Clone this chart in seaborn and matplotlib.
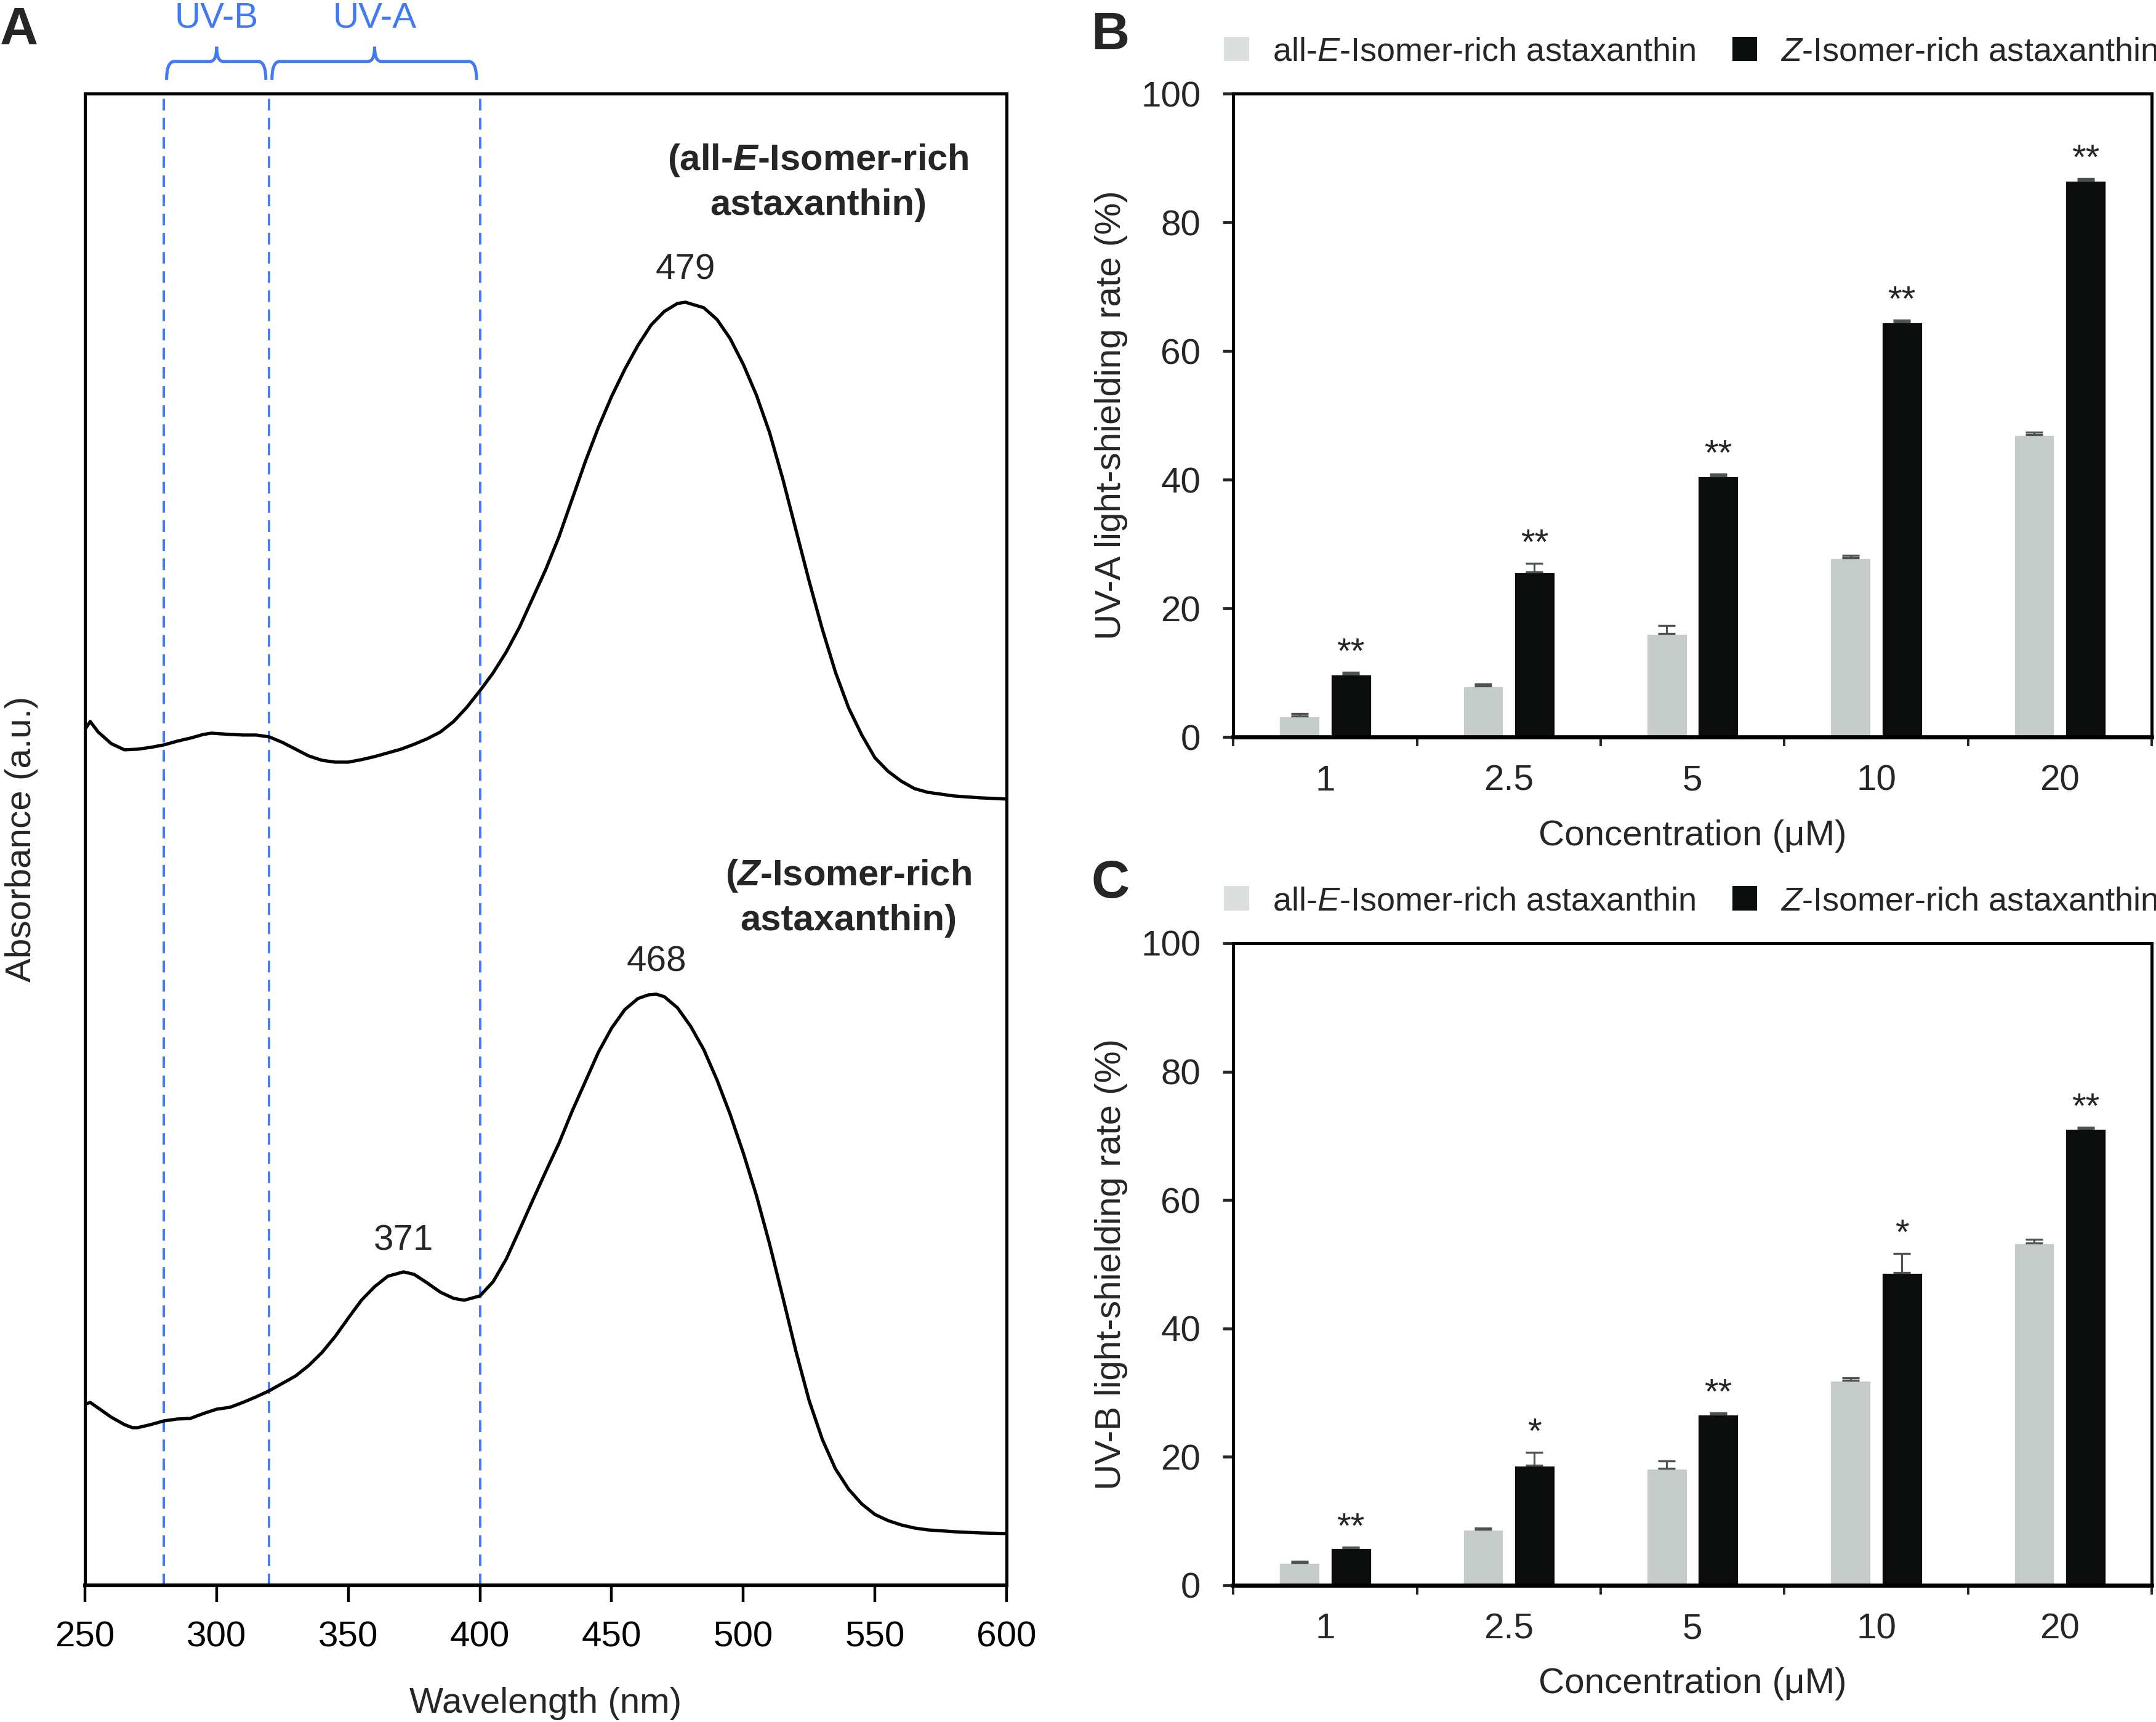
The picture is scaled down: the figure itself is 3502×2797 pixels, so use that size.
import numpy as np
import pandas as pd
import matplotlib
matplotlib.use('Agg')
import matplotlib.pyplot as plt
import matplotlib.transforms as mtransforms
from matplotlib.patches import Patch, PathPatch
from matplotlib.path import Path
import seaborn as sns

# ==================== data: panel A (absorption spectra, a.u.) ====================
wl_e = [250, 252, 255, 260, 265, 270, 275, 280, 285, 290,
        295, 298, 305, 310, 315, 320, 325, 330, 335, 340,
        345, 350, 355, 360, 365, 370, 375, 380, 385, 390,
        395, 400, 405, 410, 415, 420, 425, 430, 435, 440,
        445, 450, 455, 460, 465, 470, 475, 478, 485, 490,
        495, 500, 505, 510, 515, 520, 525, 530, 535, 540,
        545, 550, 555, 560, 565, 570, 580, 590, 600]
abs_e = [13.90, 14.03, 13.86, 13.67, 13.57, 13.58, 13.61, 13.65, 13.71, 13.76,
         13.82, 13.84, 13.82, 13.81, 13.81, 13.78, 13.69, 13.58, 13.47, 13.40,
         13.37, 13.37, 13.41, 13.46, 13.52, 13.58, 13.66, 13.75, 13.86, 14.03,
         14.26, 14.53, 14.82, 15.16, 15.56, 16.03, 16.50, 17.03, 17.64, 18.25,
         18.81, 19.31, 19.75, 20.14, 20.47, 20.69, 20.82, 20.84, 20.75, 20.56,
         20.25, 19.83, 19.33, 18.72, 17.97, 17.14, 16.31, 15.53, 14.83, 14.25,
         13.81, 13.44, 13.22, 13.06, 12.94, 12.88, 12.82, 12.79, 12.77]

wl_z = [250, 252, 255, 260, 265, 268, 270, 275, 280, 285,
        290, 295, 300, 305, 310, 315, 320, 325, 330, 335,
        340, 345, 350, 355, 360, 365, 371, 375, 380, 385,
        390, 394, 400, 405, 410, 415, 420, 425, 430, 435,
        440, 445, 450, 455, 460, 464, 467, 470, 475, 480,
        485, 490, 495, 500, 505, 510, 515, 520, 525, 530,
        535, 540, 545, 550, 555, 560, 565, 570, 580, 590,
        600]
abs_z = [2.94, 2.97, 2.88, 2.73, 2.61, 2.56, 2.56, 2.61, 2.67, 2.70,
         2.71, 2.79, 2.86, 2.89, 2.97, 3.06, 3.16, 3.28, 3.40, 3.57,
         3.78, 4.04, 4.34, 4.63, 4.85, 5.02, 5.09, 5.05, 4.91, 4.76,
         4.66, 4.63, 4.70, 4.93, 5.30, 5.77, 6.25, 6.72, 7.18, 7.70,
         8.18, 8.66, 9.05, 9.35, 9.53, 9.59, 9.60, 9.56, 9.38, 9.08,
         8.70, 8.21, 7.65, 7.02, 6.33, 5.54, 4.68, 3.80, 3.00, 2.37,
         1.89, 1.56, 1.32, 1.15, 1.05, 0.98, 0.93, 0.90, 0.87, 0.85,
         0.84]

uv_edges = [280, 320, 400]
uv_names = ['UV-B', 'UV-A']

# ==================== data: panels B and C (light-shielding rate, %) ====================
conc = ['1', '2.5', '5', '10', '20']
groups = ['all-E', 'Z']

uva_e = [3.3, 8.0, 16.1, 27.9, 47.0]
uva_e_err = [0.3, 0.25, 1.2, 0.3, 0.4]
uva_z = [9.8, 25.7, 40.6, 64.5, 86.5]
uva_z_err = [0.3, 1.3, 0.3, 0.3, 0.3]
uva_sig = ['**', '**', '**', '**', '**']

uvb_e = [3.5, 8.75, 18.2, 31.9, 53.3]
uvb_e_err = [0.25, 0.15, 1.2, 0.45, 0.55]
uvb_z = [5.8, 18.7, 26.6, 48.7, 71.1]
uvb_z_err = [0.15, 2.0, 0.2, 3.0, 0.25]
uvb_sig = ['**', '*', '**', '*', '**']

# ==================== style ====================
sns.set_style('ticks')
plt.rcParams['font.family'] = ['Liberation Sans', 'DejaVu Sans']
plt.rcParams['mathtext.fontset'] = 'custom'
plt.rcParams['mathtext.rm'] = 'Liberation Sans'
plt.rcParams['mathtext.it'] = 'Liberation Sans:italic'
plt.rcParams['mathtext.bf'] = 'Liberation Sans:bold'
plt.rcParams['mathtext.bfit'] = 'Liberation Sans:italic:bold'

BLUE = '#4279f4'
GRAY = '#c5cbc9'
GRAY_LEG = '#dadfdd'
BLACK = '#0b0d0c'
ERR = '#4d5353'
FS = 21

fig = plt.figure(figsize=(17.51, 13.985), dpi=200)
axA = fig.add_axes([0.0394, 0.0794, 0.4275, 0.8663])
axB = fig.add_axes([0.5720, 0.5720, 0.4260, 0.3736])
axC = fig.add_axes([0.5720, 0.0794, 0.4260, 0.3729])

# ==================== panel A ====================
for ex in uv_edges:
    axA.axvline(ex, color=BLUE, lw=1.4, ls=(0, (4.9, 3.1)), zorder=1)

sns.lineplot(x=wl_e, y=abs_e, color='black', lw=1.9, errorbar=None, ax=axA, zorder=3)
sns.lineplot(x=wl_z, y=abs_z, color='black', lw=1.9, errorbar=None, ax=axA, zorder=3)
for ln in axA.lines:
    ln.set_solid_joinstyle('round')

axA.set_xlim(250, 600)
axA.set_ylim(0, 24.23)
axA.set_xticks(range(250, 601, 50))
axA.set_yticks([])
axA.tick_params(axis='x', direction='out', length=9.7, width=1.6, pad=11, labelsize=FS, colors='black')
for s in axA.spines.values():
    s.set_linewidth(1.8)
    s.set_color('black')
axA.spines['bottom'].set_linewidth(2.2)
axA.set_xlabel('Wavelength (nm)', fontsize=FS)
axA.set_ylabel('Absorbance (a.u.)', fontsize=FS)
axA.xaxis.set_label_coords(0.5, -0.0681)
axA.yaxis.set_label_coords(-0.0508, 0.5)

# peak labels
i_e = int(np.argmax(abs_e))
i_z = int(np.argmax(abs_z))
axA.text(wl_e[i_e], abs_e[i_e] + 0.25, '479', ha='center', va='bottom', fontsize=FS)
axA.text(wl_z[i_z], abs_z[i_z] + 0.25, '468', ha='center', va='bottom', fontsize=FS)
sub = [k for k, w in enumerate(wl_z) if 340 <= w <= 390]
i_s = sub[int(np.argmax([abs_z[k] for k in sub]))]
axA.text(wl_z[i_s], abs_z[i_s] + 0.23, '371', ha='center', va='bottom', fontsize=FS)

axA.text(528.5, 22.79, '(all-$\\mathbfit{E}$-Isomer-rich\nastaxanthin)', ha='center', va='center',
         multialignment='center', fontsize=21.5, fontweight='bold', linespacing=1.38)
axA.text(540, 11.17, '($\\mathbfit{Z}$-Isomer-rich\nastaxanthin)', ha='center', va='center',
         multialignment='center', fontsize=21.5, fontweight='bold', linespacing=1.38)

# UV band braces above the axes
trans = mtransforms.blended_transform_factory(axA.transData, axA.transAxes)
y_end, y_mid, y_tip = 1.0091, 1.0215, 1.0314
for (lo, hi), name in zip(zip(uv_edges[:-1], uv_edges[1:]), uv_names):
    x0, x1 = lo + 1.0, hi - 1.3
    xm = (lo + hi) / 2
    verts = [(x0, y_end), (x0, y_mid), (x0 + 3, y_mid), (xm - 2.5, y_mid), (xm, y_mid), (xm, y_tip),
             (xm, y_mid), (xm + 2.5, y_mid), (x1 - 3, y_mid), (x1, y_mid), (x1, y_end)]
    codes = [Path.MOVETO, Path.CURVE3, Path.CURVE3, Path.LINETO, Path.CURVE3, Path.CURVE3,
             Path.CURVE3, Path.CURVE3, Path.LINETO, Path.CURVE3, Path.CURVE3]
    axA.add_patch(PathPatch(Path(verts, codes), transform=trans, fill=False,
                            edgecolor=BLUE, lw=1.8, clip_on=False))
    axA.text(xm, 1.0442, name, transform=trans, ha='center', va='baseline',
             fontsize=FS, color=BLUE, clip_on=False)


# ==================== panels B, C ====================
def bar_panel(ax, e_vals, e_err, z_vals, z_err, sig, ylabel):
    df = pd.DataFrame({
        'conc': conc * 2,
        'group': [groups[0]] * len(conc) + [groups[1]] * len(conc),
        'rate': e_vals + z_vals,
    })
    sns.barplot(data=df, x='conc', y='rate', hue='group', order=conc, hue_order=groups,
                palette=[GRAY, BLACK], saturation=1, width=0.56, gap=0.2,
                errorbar=None, legend=False, ax=ax, zorder=2)

    for cont, vals, errs in zip(ax.containers, [e_vals, z_vals], [e_err, z_err]):
        xs = [p.get_x() + p.get_width() / 2 for p in cont]
        ax.errorbar(xs, vals, yerr=[np.zeros(len(vals)), errs], fmt='none', ecolor=ERR,
                    elinewidth=1.1, capsize=5, capthick=1.2, zorder=3)
    z_cont = ax.containers[1]
    for p, v, er, s in zip(z_cont, z_vals, z_err, sig):
        ax.text(p.get_x() + p.get_width() / 2, v + er + 0.3, s, ha='center', va='bottom', fontsize=FS)

    ax.set_xlim(-0.5, len(conc) - 0.5)
    ax.set_ylim(0, 100)
    ax.set_yticks(range(0, 101, 20))
    ax.set_xticks(range(len(conc)), conc)
    ax.set_xticks(np.arange(-0.5, len(conc), 1.0), minor=True)
    ax.tick_params(axis='x', which='major', length=0, pad=16, labelsize=FS)
    ax.tick_params(axis='x', which='minor', direction='out', length=5.4, width=1.4)
    ax.tick_params(axis='y', direction='out', length=6, width=1.7, pad=13, labelsize=FS)
    for s in ax.spines.values():
        s.set_visible(True)
        s.set_linewidth(1.8)
        s.set_color('black')
    ax.spines['bottom'].set_linewidth(2.4)
    ax.set_xlabel('Concentration (μM)', fontsize=FS)
    ax.set_ylabel(ylabel, fontsize=FS)
    ax.xaxis.set_label_coords(0.5, -0.128)
    ax.yaxis.set_label_coords(-0.1146, 0.5)

    handles = [Patch(facecolor=GRAY_LEG, edgecolor='none'), Patch(facecolor=BLACK, edgecolor='none')]
    labels = ['all-$\\mathit{E}$-Isomer-rich astaxanthin', '$\\mathit{Z}$-Isomer-rich astaxanthin']
    ax.legend(handles, labels, loc='center left', bbox_to_anchor=(-0.01, 1.065), ncol=2,
              frameon=False, fontsize=19.5, handlelength=0.75, handleheight=0.75,
              handletextpad=0.7, columnspacing=1.1, borderpad=0, borderaxespad=0)


bar_panel(axB, uva_e, uva_e_err, uva_z, uva_z_err, uva_sig, 'UV-A light-shielding rate (%)')
bar_panel(axC, uvb_e, uvb_e_err, uvb_z, uvb_z_err, uvb_sig, 'UV-B light-shielding rate (%)')

# panel letters
fig.text(0.0, 1 - 10 / 2797, 'A', ha='left', va='top', fontsize=31, fontweight='bold')
fig.text(1772 / 3502, 1 - 18 / 2797, 'B', ha='left', va='top', fontsize=31, fontweight='bold')
fig.text(1772 / 3502, 1 - 1396 / 2797, 'C', ha='left', va='top', fontsize=31, fontweight='bold')

fig.savefig('out.png', dpi=200)
